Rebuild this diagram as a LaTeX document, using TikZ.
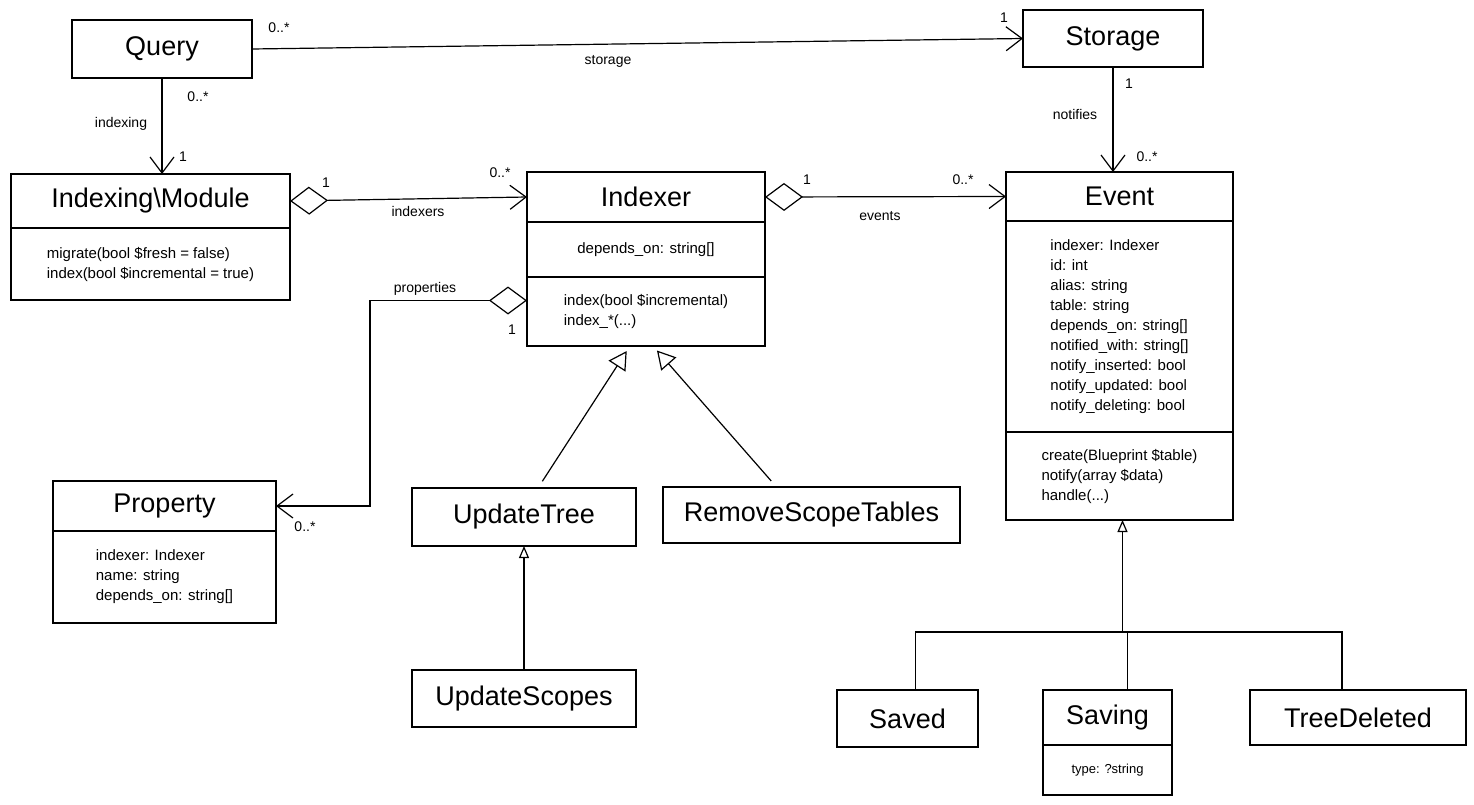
\documentclass[tikz,border=0pt]{standalone}
\usepackage{fontspec}
\setmainfont{Liberation Sans}
\usetikzlibrary{positioning,arrows.meta}

\begin{document}
\begin{tikzpicture}[x=1pt,y=-1pt,
	classname/.style={draw,line width=1.3pt,anchor=north west,inner sep=2pt,outer sep=0pt,font=\fontsize{27}{32}\selectfont},
	members/.style={draw,line width=1.3pt,align=left,inner sep=2pt,outer sep=0pt,font=\fontsize{15}{20}\selectfont},
	lbl/.style={inner sep=1pt,font=\fontsize{14}{16}\selectfont},
	mult/.style={inner sep=1pt,font=\fontsize{14}{16}\selectfont},
	assoc/.style={line width=1.2pt,-{Straight Barb[length=16pt,width=24pt]}},
	aggr/.style={line width=1.2pt,{Diamond[open,length=38pt,width=28pt]}-{Straight Barb[length=16pt,width=24pt]}},
	gen/.style={line width=1.2pt,-{Triangle[open,length=18pt,width=20pt]}},
	gensmall/.style={line width=1.2pt,-{Triangle[open,length=12pt,width=10pt]}}]
	\fill[white] (0,0) rectangle (1474,805);
	\useasboundingbox (0,0) rectangle (1474,805);
	\node[classname,minimum width=180pt,minimum height=58pt] (query) at (72,20) {Query};
	\node[classname,minimum width=180pt,minimum height=57pt] (storage) at (1023,10) {Storage};
	\node[classname,minimum width=279pt,minimum height=54pt] (module) at (11,174) {Indexing\textbackslash Module};
	\node[members,minimum width=279pt,minimum height=72pt,below=0pt of module] (module-ops) {migrate(bool \$fresh = false)\\index(bool \$incremental = true)};
	\node[classname,minimum width=238pt,minimum height=50pt] (indexer) at (527,172) {Indexer};
	\node[members,minimum width=238pt,minimum height=55pt,below=0pt of indexer] (indexer-attr) {depends\_on: string[]};
	\node[members,minimum width=238pt,minimum height=69pt,below=0pt of indexer-attr] (indexer-ops) {index(bool \$incremental)\\index\_*(...)};
	\node[classname,minimum width=227pt,minimum height=49pt] (event) at (1006,172) {Event};
	\node[members,minimum width=227pt,minimum height=211pt,below=0pt of event] (event-attr) {indexer: Indexer\\id: int\\alias: string\\table: string\\depends\_on: string[]\\notified\_with: string[]\\notify\_inserted: bool\\notify\_updated: bool\\notify\_deleting: bool};
	\node[members,minimum width=227pt,minimum height=88pt,below=0pt of event-attr] (event-ops) {create(Blueprint \$table)\\notify(array \$data)\\handle(...)};
	\node[classname,minimum width=223pt,minimum height=50pt] (property) at (53,481) {Property};
	\node[members,minimum width=223pt,minimum height=92pt,below=0pt of property] (property-attr) {indexer: Indexer\\name: string\\depends\_on: string[]};
	\node[classname,minimum width=224pt,minimum height=58pt] (updatetree) at (412,488) {UpdateTree};
	\node[classname,minimum width=297pt,minimum height=56pt] (removescope) at (663,487) {RemoveScopeTables};
	\node[classname,minimum width=224pt,minimum height=57pt] (updatescopes) at (412,670) {UpdateScopes};
	\node[classname,minimum width=141pt,minimum height=57pt] (saved) at (837,690) {Saved};
	\node[classname,minimum width=129pt,minimum height=55pt] (saving) at (1043,690) {Saving};
	\node[members,minimum width=129pt,minimum height=50pt,below=0pt of saving,font=\fontsize{13}{15}\selectfont] (saving-attr) {type: ?string};
	\node[classname,minimum width=216pt,minimum height=55pt] (treedeleted) at (1250,690) {TreeDeleted};
	\path[assoc] (query.east) edge (storage.west)
		(query.south) edge (module.north -| query.south)
		(storage.south) edge (storage.south |- event.north);
	\path[aggr] (module.east) edge (indexer.west)
		(indexer.east) edge (event.west);
	\draw[aggr] ([yshift=11pt]indexer-ops.west) -- ++(-157,0) |- (property.east);
	\draw[gen,shorten <=8pt,shorten >=6pt] ([xshift=14pt]updatetree.north) -- ([xshift=-16pt]indexer-ops.south);
	\draw[gen,shorten <=8pt,shorten >=6pt] ([xshift=-35pt]removescope.north) -- ([xshift=7pt]indexer-ops.south);
	\draw[gensmall] (updatescopes.north) -- (updatetree.south);
	\coordinate (fork) at ([xshift=3pt,yshift=-112pt]event-ops.south);
	\draw[line width=1.2pt] ([xshift=8pt]saved.north) |- (fork) -| ([xshift=-16pt]treedeleted.north);
	\draw[line width=1.2pt] ([xshift=20pt]saving.north) -- ([xshift=20pt]saving.north |- fork);
	\draw[gensmall] (fork) -- (fork |- event-ops.south);
	\node[mult] (qs-from) at (279,28) {0..*};
	\node[lbl] (qs-name) at (608,61) {storage};
	\node[mult] (qs-to) at (1004,18) {1};
	\node[mult] (qm-from) at (198,97) {0..*};
	\node[lbl] (qm-name) at (121,124) {indexing};
	\node[mult] (qm-to) at (183,157) {1};
	\node[mult] (mi-from) at (326,183) {1};
	\node[lbl] (mi-name) at (418,211) {indexers};
	\node[mult] (mi-to) at (500,173) {0..*};
	\node[mult] (ie-from) at (807,180) {1};
	\node[lbl] (ie-name) at (880,216) {events};
	\node[mult] (ie-to) at (963,180) {0..*};
	\node[mult] (se-from) at (1129,84) {1};
	\node[lbl] (se-name) at (1075,114) {notifies};
	\node[mult] (se-to) at (1147,157) {0..*};
	\node[lbl] (ip-name) at (425,289) {properties};
	\node[mult] (ip-from) at (512,330) {1};
	\node[mult] (ip-to) at (305,527) {0..*};
\end{tikzpicture}
\end{document}
